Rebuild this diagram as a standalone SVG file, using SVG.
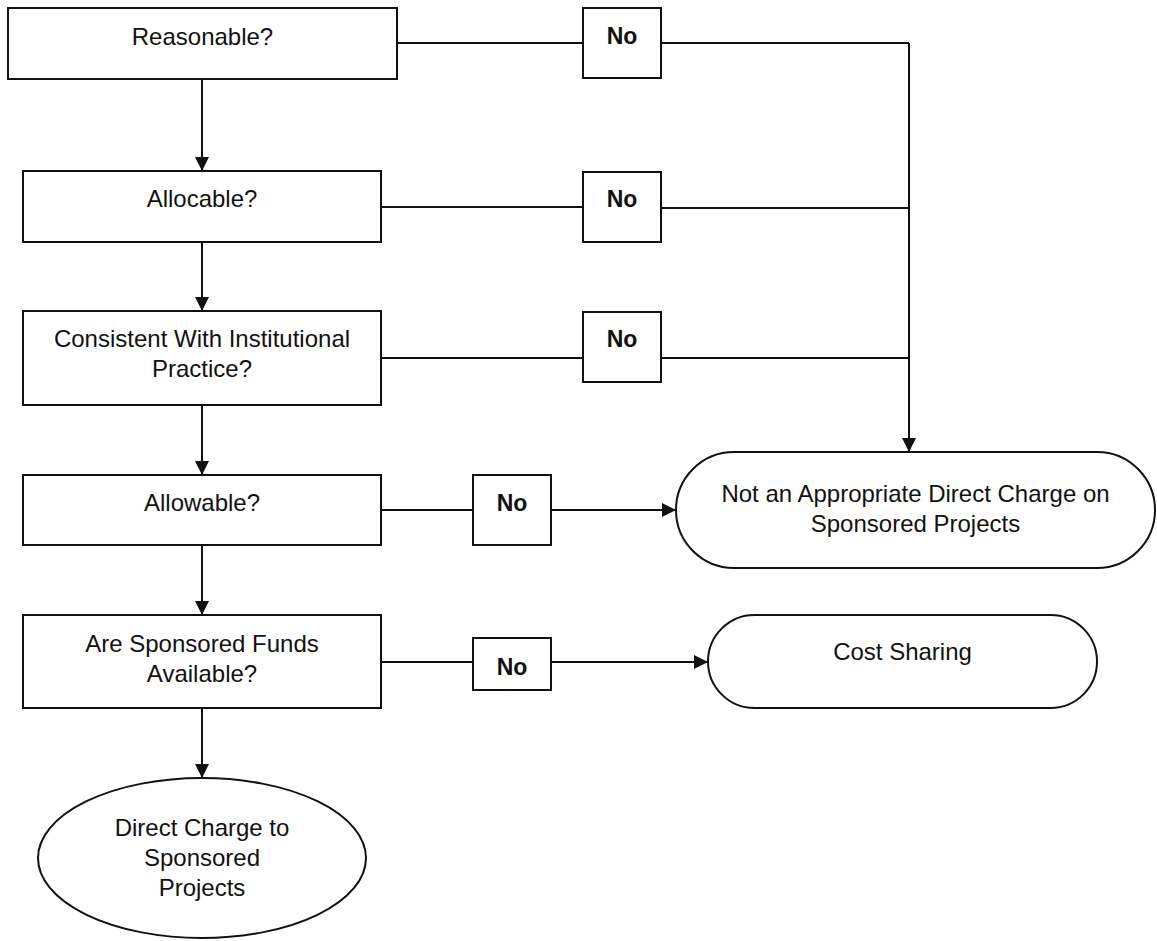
<svg xmlns="http://www.w3.org/2000/svg" width="1157" height="941" viewBox="0 0 1157 941">
<style>
.box{fill:#fff;stroke:#111;stroke-width:2}
.t{font-family:"Liberation Sans",Arial,sans-serif;font-size:24px;fill:#111;text-anchor:middle}
.no{font-family:"Liberation Sans",Arial,sans-serif;font-size:23px;font-weight:bold;fill:#111;text-anchor:middle}
.ln{fill:none;stroke:#111;stroke-width:2}
</style>
<defs>
<marker id="ah" viewBox="0 0 14 14" markerWidth="14" markerHeight="14" markerUnits="userSpaceOnUse" refX="14" refY="7" orient="auto">
<path d="M0,0 L14,7 L0,14 z" fill="#111"/>
</marker>
</defs>
<rect width="1157" height="941" fill="#fff"/>
<g id="connectors">
<path class="ln" d="M202,79 V171" marker-end="url(#ah)"/>
<path class="ln" d="M202,242 V311" marker-end="url(#ah)"/>
<path class="ln" d="M202,405 V475" marker-end="url(#ah)"/>
<path class="ln" d="M202,545 V615" marker-end="url(#ah)"/>
<path class="ln" d="M202,708 V778" marker-end="url(#ah)"/>
<path class="ln" d="M397,43 H583"/>
<path class="ln" d="M381,207 H583"/>
<path class="ln" d="M381,358 H583"/>
<path class="ln" d="M381,510 H473"/>
<path class="ln" d="M381,662 H473"/>
<path class="ln" d="M661,43 H909"/>
<path class="ln" d="M661,208 H909"/>
<path class="ln" d="M661,358 H909"/>
<path class="ln" d="M909,43 V452" marker-end="url(#ah)"/>
<path class="ln" d="M551,510 H676" marker-end="url(#ah)"/>
<path class="ln" d="M551,662 H708" marker-end="url(#ah)"/>
</g>
<g id="reasonable">
<rect class="box" x="8" y="8" width="389" height="71"/>
<text class="t" x="202.5" y="45">Reasonable?</text>
</g>
<g id="allocable">
<rect class="box" x="23" y="171" width="358" height="71"/>
<text class="t" x="202" y="207">Allocable?</text>
</g>
<g id="consistent">
<rect class="box" x="23" y="311" width="358" height="94"/>
<text class="t" x="202" y="347">Consistent With Institutional</text>
<text class="t" x="202" y="377">Practice?</text>
</g>
<g id="allowable">
<rect class="box" x="23" y="475" width="358" height="70"/>
<text class="t" x="202" y="511">Allowable?</text>
</g>
<g id="funds">
<rect class="box" x="23" y="615" width="358" height="93"/>
<text class="t" x="202" y="652">Are Sponsored Funds</text>
<text class="t" x="202" y="682">Available?</text>
</g>
<g id="no1">
<rect class="box" x="583" y="8" width="78" height="70"/>
<text class="no" x="622" y="44">No</text>
</g>
<g id="no2">
<rect class="box" x="583" y="172" width="78" height="70"/>
<text class="no" x="622" y="207">No</text>
</g>
<g id="no3">
<rect class="box" x="583" y="312" width="78" height="70"/>
<text class="no" x="622" y="347">No</text>
</g>
<g id="no4">
<rect class="box" x="473" y="475" width="78" height="70"/>
<text class="no" x="512" y="511">No</text>
</g>
<g id="no5">
<rect class="box" x="473" y="638" width="78" height="52"/>
<text class="no" x="512" y="675">No</text>
</g>
<g id="not-appropriate">
<rect class="box" x="676" y="452" width="479" height="116" rx="58" ry="58"/>
<text class="t" x="915.5" y="502">Not an Appropriate Direct Charge on</text>
<text class="t" x="915.5" y="532">Sponsored Projects</text>
</g>
<g id="cost-sharing">
<rect class="box" x="708" y="615" width="389" height="93" rx="46.5" ry="46.5"/>
<text class="t" x="902.5" y="660">Cost Sharing</text>
</g>
<g id="direct-charge">
<ellipse class="box" cx="202" cy="858" rx="164" ry="80"/>
<text class="t" x="202" y="836">Direct Charge to</text>
<text class="t" x="202" y="866">Sponsored</text>
<text class="t" x="202" y="896">Projects</text>
</g>
</svg>
